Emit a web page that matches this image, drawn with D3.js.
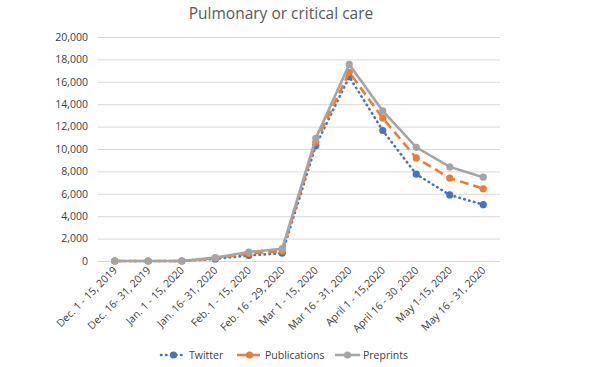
<!DOCTYPE html>
<html>
<head>
<meta charset="utf-8">
<script src="https://cdn.jsdelivr.net/npm/d3@7"></script>
<style>
  body { margin: 0; background: #fff; }
  text { font-family: "Open Sans", "Liberation Sans", sans-serif; }
</style>
</head>
<body>
<svg id="chart"></svg>
<script>
// periods on the x axis
const periods = ["Dec. 1 - 15, 2019", "Dec. 16- 31, 2019", "Jan. 1 - 15, 2020", "Jan. 16- 31, 2020",
  "Feb. 1 - 15, 2020", "Feb. 16 - 29, 2020", "Mar 1 - 15, 2020", "Mar 16 - 31, 2020",
  "April 1 - 15,2020", "April 16 - 30 ,2020", "May 1-15, 2020", "May 16 - 31, 2020"]

// series values
const twitter = [0, 0, 0, 180, 500, 700, 10300, 16450, 11650, 7750, 5900, 5030]
const publications = [0, 0, 0, 250, 650, 900, 10600, 16850, 12750, 9200, 7400, 6450]
const preprints = [0, 0, 0, 300, 800, 1100, 10950, 17550, 13400, 10150, 8400, 7480]

const yTicks = [0, 2000, 4000, 6000, 8000, 10000, 12000, 14000, 16000, 18000, 20000]

const series = [
  {name: "Twitter", values: twitter, color: "#4472c4", dash: "0.5,4.5"},
  {name: "Publications", values: publications, color: "#ed7d31", dash: "9,5"},
  {name: "Preprints", values: preprints, color: "#a5a5a5", dash: null}
]

var margin = {top: 37, right: 100, bottom: 106, left: 98},
  width = 600 - margin.left - margin.right,
  height = 367 - margin.top - margin.bottom;

var svg = d3.select("#chart")
  .attr("width", 600)
  .attr("height", 367)

var g = svg.append("g")
  .attr("transform", "translate(" + margin.left + "," + margin.top + ")");

var x = d3.scaleBand().domain(periods).range([0, width])
var y = d3.scaleLinear().domain([0, 20000]).range([height, 0])

// title
svg.append("text")
  .attr("x", 281)
  .attr("y", 19)
  .attr("text-anchor", "middle")
  .attr("font-size", "15.5px")
  .attr("fill", "#595959")
  .text("Pulmonary or critical care")

// gridlines + y labels
g.append("g")
  .attr("class", "yAxis")
  .call(d3.axisLeft(y).tickValues(yTicks).tickSize(-width).tickPadding(10)
    .tickFormat(d3.format(",")))
  .call(a => a.select(".domain").remove())
  .call(a => a.selectAll(".tick line").attr("stroke", "#d9d9d9").attr("stroke-width", 1))
  .call(a => a.selectAll(".tick text").attr("fill", "#404040").attr("font-size", "10.5px")
    .style("font-family", "'Open Sans', sans-serif"))

// x labels, rotated
g.append("g")
  .selectAll("text")
  .data(periods)
  .enter().append("text")
  .attr("transform", d => "translate(" + (x(d) + x.bandwidth() / 2 + 3) + "," + (height + 10) + ") rotate(-45)")
  .attr("text-anchor", "end")
  .attr("font-size", "10.5px")
  .attr("fill", "#404040")
  .text(d => d)

var line = d3.line()
  .x((d, i) => x(periods[i]) + x.bandwidth() / 2)
  .y(d => y(d))

var lines = g.append("g")
  .selectAll("g")
  .data(series)
  .enter().append("g")

lines.append("path")
  .attr("d", d => line(d.values))
  .attr("fill", "none")
  .attr("stroke", d => d.color)
  .attr("stroke-width", 2.6)
  .attr("stroke-linecap", d => d.dash && d.dash.startsWith("0.5") ? "round" : "butt")
  .attr("stroke-dasharray", d => d.dash)

lines.selectAll("circle")
  .data(d => d.values.map(v => ({v: v, color: d.color})))
  .enter().append("circle")
  .attr("cx", (d, i) => x(periods[i]) + x.bandwidth() / 2)
  .attr("cy", d => y(d.v))
  .attr("r", 3.6)
  .attr("fill", d => d.color)

// legend
var legend_locs = [161, 237, 335]
var legend = svg.append("g")
  .selectAll("g")
  .data(series)
  .enter().append("g")
  .attr("transform", (d, i) => "translate(" + legend_locs[i] + ",355)")

legend.append("line")
  .attr("x1", 0).attr("x2", 25)
  .attr("stroke", d => d.color)
  .attr("stroke-width", 2.6)
  .attr("stroke-linecap", (d, i) => i == 0 ? "round" : "butt")
  .attr("stroke-dasharray", (d, i) => i == 0 ? "0.5,4.5" : (i == 1 ? "9,5" : null))

legend.append("circle")
  .attr("cx", 12.5).attr("r", 3.6)
  .attr("fill", d => d.color)

legend.append("text")
  .attr("x", 28)
  .attr("y", 4)
  .attr("font-size", "10.5px")
  .attr("fill", "#404040")
  .text(d => d.name)
</script>
</body>
</html>
